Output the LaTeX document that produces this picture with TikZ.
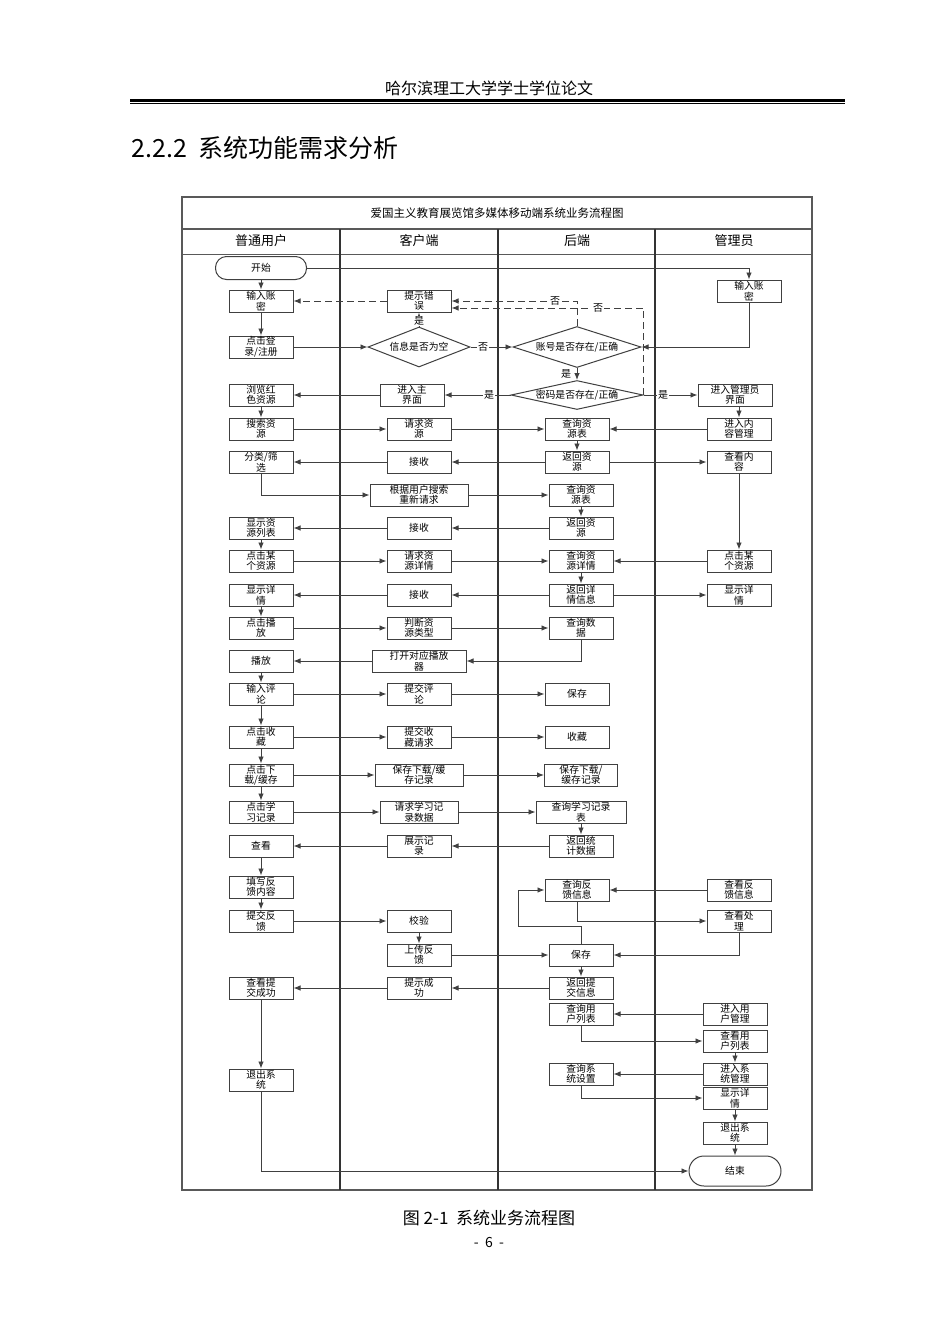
\documentclass[tikz,border=0pt]{standalone}
\usepackage{fontspec}
\setmainfont{Noto Sans CJK SC}
\usetikzlibrary{arrows.meta,shapes.geometric}

\begin{document}
\begin{tikzpicture}[
  x=1pt, y=-1pt,
  font=\fontsize{9.8}{10.5}\selectfont,
  box/.style={draw=black!75, line width=1pt, fill=white, align=center, minimum width=64pt, minimum height=22pt, inner sep=0pt},
  term/.style={box, rounded corners=11pt, minimum width=91pt, minimum height=23pt},
  check/.style={diamond, draw=black!75, line width=1pt, fill=white, aspect=3, inner ysep=0pt, inner xsep=-12pt},
  arrow/.style={-{Latex[length=7pt,width=5.5pt]}, line width=0.9pt, draw=black!75},
  back/.style={arrow, dash pattern=on 7pt off 4pt, line width=1pt},
  lbl/.style={fill=white, inner sep=0.8pt, font=\fontsize{10}{10}\selectfont},
  lane/.style={line width=2pt, draw=black!80},
  frame/.style={line width=1.2pt, draw=black!65}
]
\fill[white] (0,0) rectangle (950,1342);
\useasboundingbox (0,0) rectangle (950,1342);

% page header and caption
\node[font=\fontsize{16}{16}\selectfont] (hdr) at (489,88) {哈尔滨理工大学学士学位论文};
\draw[line width=2.2pt] (130,100.5) -- (845,100.5);
\draw[line width=0.7pt] (130,103.8) -- (845,103.8);
\node[anchor=west, font=\fontsize{25}{25}\selectfont] (sec) at (128,148) {2.2.2\ \ 系统功能需求分析};
\node[font=\fontsize{17}{17}\selectfont] (cap) at (489,1218) {图 2-1\ \ 系统业务流程图};
\node[font=\fontsize{14}{14}\selectfont] (pg) at (489,1242) {-\ \ 6\ \ -};

% frame and swim lanes
\draw[frame] (182,197) rectangle (812,1190);
\draw[frame] (182,229) -- (812,229);
\draw[frame, line width=0.8pt] (182,254) -- (812,254);
\foreach \x in {340,498,655} \draw[lane] (\x,229) -- (\x,1190);
\node[font=\fontsize{11.5}{11.5}\selectfont] (title) at (497,213) {爱国主义教育展览馆多媒体移动端系统业务流程图};
\node[font=\fontsize{13}{13}\selectfont] (h-user) at (261,241) {普通用户};
\node[font=\fontsize{13}{13}\selectfont] (h-client) at (419,241) {客户端};
\node[font=\fontsize{13}{13}\selectfont] (h-back) at (577,241) {后端};
\node[font=\fontsize{13}{13}\selectfont] (h-admin) at (734,241) {管理员};

% 普通用户
\node[term] (u-start) at (261,268) {开始};
\node[box] (u-pwd) at (261,301) {输入账\\密};
\node[box] (u-login) at (261,347) {点击登\\录/注册};
\node[box] (u-browse) at (261,395) {浏览红\\色资源};
\node[box] (u-search) at (261,429) {搜索资\\源};
\node[box] (u-filter) at (261,462) {分类/筛\\选};
\node[box] (u-list) at (261,528) {显示资\\源列表};
\node[box] (u-pick) at (261,561) {点击某\\个资源};
\node[box] (u-detail) at (261,595) {显示详\\情};
\node[box] (u-clickplay) at (261,628) {点击播\\放};
\node[box] (u-play) at (261,661) {播放};
\node[box] (u-comment) at (261,694) {输入评\\论};
\node[box] (u-fav) at (261,737) {点击收\\藏};
\node[box] (u-down) at (261,775) {点击下\\载/缓存};
\node[box] (u-rec) at (261,812) {点击学\\习记录};
\node[box] (u-view) at (261,846) {查看};
\node[box] (u-fill) at (261,887) {填写反\\馈内容};
\node[box] (u-submit) at (261,921) {提交反\\馈};
\node[box] (u-ok) at (261,988) {查看提\\交成功};
\node[box] (u-exit) at (261,1080) {退出系\\统};

% 客户端
\node[box] (c-err) at (419,301) {提示错\\误};
\node[check, minimum width=102pt, minimum height=40pt] (c-empty) at (419,347) {信息是否为空};
\node[box] (c-main) at (412,395) {进入主\\界面};
\node[box] (c-req) at (419,429) {请求资\\源};
\node[box] (c-recv1) at (419,462) {接收};
\node[box, minimum width=98pt] (c-research) at (419,495) {根据用户搜索\\重新请求};
\node[box] (c-recv2) at (419,528) {接收};
\node[box] (c-reqdet) at (419,561) {请求资\\源详情};
\node[box] (c-recv3) at (419,595) {接收};
\node[box] (c-type) at (419,628) {判断资\\源类型};
\node[box, minimum width=94pt] (c-player) at (419,661) {打开对应播放\\器};
\node[box] (c-comment) at (419,694) {提交评\\论};
\node[box] (c-fav) at (419,737) {提交收\\藏请求};
\node[box, minimum width=88pt] (c-down) at (419,775) {保存下载/缓\\存记录};
\node[box, minimum width=78pt] (c-rec) at (419,812) {请求学习记\\录数据};
\node[box] (c-show) at (419,846) {展示记\\录};
\node[box] (c-check) at (419,921) {校验};
\node[box] (c-upload) at (419,955) {上传反\\馈};
\node[box] (c-success) at (419,988) {提示成\\功};

% 后端
\node[check, minimum width=128pt, minimum height=41pt] (b-acct) at (577,347) {账号是否存在/正确};
\node[check, aspect=4.5, minimum width=132pt, minimum height=29pt] (b-pwd) at (577,395) {密码是否存在/正确};
\node[box] (b-query1) at (577,429) {查询资\\源表};
\node[box] (b-ret1) at (577,462) {返回资\\源};
\node[box] (b-query2) at (581,495) {查询资\\源表};
\node[box] (b-ret2) at (581,528) {返回资\\源};
\node[box] (b-qdet) at (581,561) {查询资\\源详情};
\node[box] (b-retdet) at (581,595) {返回详\\情信息};
\node[box] (b-qdata) at (581,628) {查询数\\据};
\node[box] (b-save) at (577,694) {保存};
\node[box] (b-fav) at (577,737) {收藏};
\node[box, minimum width=73pt] (b-down) at (581,775) {保存下载/\\缓存记录};
\node[box, minimum width=90pt] (b-qrec) at (581,812) {查询学习记录\\表};
\node[box] (b-stat) at (581,846) {返回统\\计数据};
\node[box] (b-qfb) at (577,890) {查询反\\馈信息};
\node[box] (b-save2) at (581,955) {保存};
\node[box] (b-retsub) at (581,988) {返回提\\交信息};
\node[box] (b-quser) at (581,1014) {查询用\\户列表};
\node[box] (b-qsys) at (581,1074) {查询系\\统设置};

% 管理员
\node[box] (a-pwd) at (749,291) {输入账\\密};
\node[box, minimum width=74pt] (a-main) at (735,395) {进入管理员\\界面};
\node[box] (a-content) at (739,429) {进入内\\容管理};
\node[box] (a-view) at (739,462) {查看内\\容};
\node[box] (a-pick) at (739,561) {点击某\\个资源};
\node[box] (a-detail) at (739,595) {显示详\\情};
\node[box] (a-fb) at (739,890) {查看反\\馈信息};
\node[box] (a-handle) at (739,921) {查看处\\理};
\node[box] (a-user) at (735,1014) {进入用\\户管理};
\node[box] (a-ulist) at (735,1041) {查看用\\户列表};
\node[box] (a-sys) at (735,1074) {进入系\\统管理};
\node[box] (a-sdetail) at (735,1098) {显示详\\情};
\node[box] (a-exit) at (735,1133) {退出系\\统};
\node[term, minimum width=92pt, minimum height=30pt, rounded corners=15pt] (a-end) at (735,1171) {结束};

\coordinate (fb-turn) at (518,926);

% login
\draw[arrow] (u-start) -- (u-pwd);
\draw[arrow] (u-start.east) -| (a-pwd.north);
\draw[arrow] (u-pwd) -- (u-login);
\draw[arrow] (u-login) -- (c-empty);
\draw[arrow] (c-empty) -- (c-err);
\draw[arrow] (c-empty) -- (b-acct);
\draw[back] (c-err) -- (u-pwd);
\draw[back] (b-acct.north) |- (c-err.east);
\draw[back] (b-pwd.east) |- ([yshift=-7pt]c-err.east);
\draw[arrow] (a-pwd.south) |- (b-acct.east);
\draw[arrow] (b-acct) -- (b-pwd);
\draw[arrow] (b-pwd) -- (c-main);
\draw[arrow] (b-pwd) -- (a-main);
\draw[arrow] (c-main) -- (u-browse);
\draw[arrow] (u-browse) -- (u-search);
\draw[arrow] (a-main.south -| a-content.north) -- (a-content.north);

% resources
\draw[arrow] (u-search) -- (c-req);
\draw[arrow] (c-req) -- (b-query1);
\draw[arrow] (a-content) -- (b-query1);
\draw[arrow] (b-query1) -- (b-ret1);
\draw[arrow] (b-ret1) -- (c-recv1);
\draw[arrow] (b-ret1) -- (a-view);
\draw[arrow] (c-recv1) -- (u-filter);
\draw[arrow] (u-filter.south) |- (c-research.west);
\draw[arrow] (c-research) -- (b-query2);
\draw[arrow] (b-query2) -- (b-ret2);
\draw[arrow] (b-ret2) -- (c-recv2);
\draw[arrow] (c-recv2) -- (u-list);
\draw[arrow] (u-list) -- (u-pick);
\draw[arrow] (u-pick) -- (c-reqdet);
\draw[arrow] (c-reqdet) -- (b-qdet);
\draw[arrow] (a-view) -- (a-pick);
\draw[arrow] (a-pick) -- (b-qdet);
\draw[arrow] (b-qdet) -- (b-retdet);
\draw[arrow] (b-retdet) -- (c-recv3);
\draw[arrow] (b-retdet) -- (a-detail);
\draw[arrow] (c-recv3) -- (u-detail);

% play, comment, favourite, download, records
\draw[arrow] (u-detail) -- (u-clickplay);
\draw[arrow] (u-clickplay) -- (c-type);
\draw[arrow] (c-type) -- (b-qdata);
\draw[arrow] (b-qdata.south) |- (c-player.east);
\draw[arrow] (c-player) -- (u-play);
\draw[arrow] (u-play) -- (u-comment);
\draw[arrow] (u-comment) -- (c-comment);
\draw[arrow] (c-comment) -- (b-save);
\draw[arrow] (u-comment) -- (u-fav);
\draw[arrow] (u-fav) -- (c-fav);
\draw[arrow] (c-fav) -- (b-fav);
\draw[arrow] (u-fav) -- (u-down);
\draw[arrow] (u-down) -- (c-down);
\draw[arrow] (c-down) -- (b-down);
\draw[arrow] (u-down) -- (u-rec);
\draw[arrow] (u-rec) -- (c-rec);
\draw[arrow] (c-rec) -- (b-qrec);
\draw[arrow] (b-qrec) -- (b-stat);
\draw[arrow] (b-stat) -- (c-show);
\draw[arrow] (c-show) -- (u-view);

% feedback
\draw[arrow] (u-view) -- (u-fill);
\draw[arrow] (u-fill) -- (u-submit);
\draw[arrow] (u-submit) -- (c-check);
\draw[arrow] (c-check) -- (c-upload);
\draw[arrow] (c-upload) -- (b-save2);
\draw[arrow] (b-save2.north) |- (fb-turn) |- (b-qfb.west);
\draw[arrow] (a-fb) -- (b-qfb);
\draw[arrow] (b-qfb.south) |- (a-handle.west);
\draw[arrow] (a-handle.south) |- (b-save2.east);
\draw[arrow] (b-save2) -- (b-retsub);
\draw[arrow] (b-retsub) -- (c-success);
\draw[arrow] (c-success) -- (u-ok);
\draw[arrow] (u-ok) -- (u-exit);
\draw[arrow] (u-exit.south) |- (a-end.west);

% admin management
\draw[arrow] (a-user) -- (b-quser);
\draw[arrow] (b-quser.south) |- (a-ulist.west);
\draw[arrow] (a-ulist) -- (a-sys);
\draw[arrow] (a-sys) -- (b-qsys);
\draw[arrow] (b-qsys.south) |- (a-sdetail.west);
\draw[arrow] (a-sdetail) -- (a-exit);
\draw[arrow] (a-exit) -- (a-end);

% branch labels
\node[lbl] (l-yes1) at (419,321) {是};
\node[lbl] (l-no1) at (483,347) {否};
\node[lbl] (l-no2) at (555,301) {否};
\node[lbl] (l-no3) at (598,308) {否};
\node[lbl] (l-yes2) at (566,374) {是};
\node[lbl] (l-yes3) at (489,395) {是};
\node[lbl] (l-yes4) at (663,395) {是};
\end{tikzpicture}
\end{document}
